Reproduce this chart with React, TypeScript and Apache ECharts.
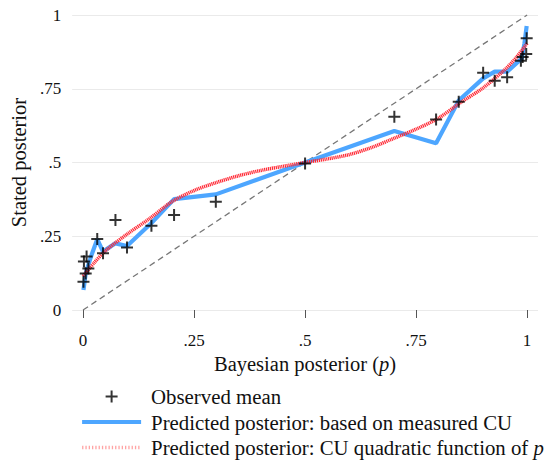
import React, { useEffect, useRef } from "react";
import * as echarts from "echarts";

// Observed means (crosses)
const obsX = [0.001, 0.002, 0.006, 0.008, 0.012, 0.032, 0.045, 0.073, 0.099, 0.154, 0.205, 0.299, 0.5, 0.701, 0.795, 0.846, 0.901, 0.927, 0.955, 0.986, 0.99, 0.998, 0.999];
const obsY = [0.096, 0.164, 0.124, 0.181, 0.141, 0.241, 0.192, 0.305, 0.212, 0.286, 0.322, 0.367, 0.497, 0.655, 0.646, 0.706, 0.804, 0.777, 0.789, 0.845, 0.858, 0.868, 0.921];

// Predicted posterior based on measured CU (blue)
const cuX = [0.001, 0.006, 0.012, 0.02, 0.032, 0.045, 0.073, 0.099, 0.154, 0.205, 0.299, 0.5, 0.701, 0.795, 0.846, 0.901, 0.927, 0.955, 0.988, 0.994, 0.999];
const cuY = [0.068, 0.124, 0.153, 0.19, 0.24, 0.198, 0.226, 0.217, 0.295, 0.376, 0.392, 0.5, 0.607, 0.565, 0.71, 0.785, 0.808, 0.808, 0.853, 0.904, 0.963];

// Predicted posterior: CU quadratic function of p (red)
const quadX = [0, 0.025, 0.05, 0.1, 0.15, 0.2, 0.25, 0.3, 0.35, 0.4, 0.45, 0.5, 0.55, 0.6, 0.65, 0.7, 0.75, 0.8, 0.85, 0.9, 0.95, 0.975, 1.0];
const quadY = [0.115, 0.16, 0.2, 0.258, 0.31, 0.367, 0.405, 0.432, 0.455, 0.473, 0.487, 0.5, 0.512, 0.527, 0.551, 0.582, 0.613, 0.65, 0.703, 0.752, 0.815, 0.855, 0.904];

// 45-degree reference line
const diagX = [0, 1];
const diagY = [0, 1];

const tickValues = [0, 0.25, 0.5, 0.75, 1];
const tickLabels = ["0", ".25", ".5", ".75", "1"];

const NAME_OBS = "Observed mean";
const NAME_CU = "Predicted posterior: based on measured CU";
const NAME_QUAD = "Predicted posterior: CU quadratic function of p";

const FONT = "Liberation Serif";
const PLUS = "path://M5,0h2v5h5v2h-5v5h-2v-5h-5v-2h5z";
const BLUE = "#4da6ff";
const RED = "#ff2a36";

const zip = (xs: number[], ys: number[]) => xs.map((x, i) => [x, ys[i]]);
const fmtTick = (v: number) => {
  const i = tickValues.findIndex((t) => Math.abs(t - v) < 1e-9);
  return i >= 0 ? tickLabels[i] : "";
};

export default function App() {
  const ref = useRef<HTMLDivElement>(null);
  useEffect(() => {
    if (!ref.current) return;
    const chart = echarts.init(ref.current, undefined, { renderer: "svg" });
    chart.setOption({
      animation: false,
      backgroundColor: "#ffffff",
      grid: { left: 67, right: 10, top: 6.15, bottom: 143.15, containLabel: false },
      xAxis: {
        type: "value",
        min: -0.0245,
        max: 1.0245,
        name: "Bayesian posterior ({i|p})",
        nameLocation: "middle",
        nameGap: 30,
        nameTextStyle: {
          fontFamily: FONT,
          fontSize: 20.5,
          color: "#111",
          rich: { i: { fontStyle: "italic", fontFamily: FONT, fontSize: 20.5, color: "#111" } },
        },
        axisLine: { show: false },
        axisTick: { show: true, length: 8, lineStyle: { color: "#555", width: 1 }, customValues: tickValues },
        axisLabel: {
          customValues: tickValues,
          formatter: fmtTick,
          margin: 13,
          fontFamily: FONT,
          fontSize: 17,
          color: "#111",
        },
        splitLine: { show: false },
      },
      yAxis: {
        type: "value",
        min: -0.03,
        max: 1.03,
        name: "Stated posterior",
        nameLocation: "middle",
        nameGap: 35,
        nameTextStyle: { fontFamily: FONT, fontSize: 20.5, color: "#111" },
        axisLine: { show: false },
        axisTick: { show: false, customValues: tickValues },
        axisLabel: {
          customValues: tickValues,
          formatter: fmtTick,
          margin: 11,
          fontFamily: FONT,
          fontSize: 17,
          color: "#111",
        },
        splitLine: { show: true, lineStyle: { color: "#eaeaea", width: 1 } },
      },
      legend: {
        orient: "vertical",
        left: 80,
        top: 386,
        bottom: 0,
        padding: 0,
        itemWidth: 59,
        itemHeight: 12,
        itemGap: 4.5,
        symbolKeepAspect: true,
        textStyle: {
          fontFamily: FONT,
          fontSize: 20.8,
          color: "#111",
          lineHeight: 20,
          padding: [0, 0, 0, 5],
          rich: { i: { fontStyle: "italic", fontFamily: FONT, fontSize: 20.8, color: "#111", lineHeight: 20 } },
        },
        formatter: (name: string) => (name === NAME_QUAD ? name.slice(0, -1) + "{i|p}" : name),
        data: [
          { name: NAME_OBS, icon: PLUS, itemStyle: { color: "#000" } },
          {
            name: NAME_CU,
            itemStyle: { opacity: 0, color: "rgba(0,0,0,0)", borderWidth: 0 },
            lineStyle: { color: BLUE, width: 4.2 },
          },
          {
            name: NAME_QUAD,
            itemStyle: { opacity: 0, color: "rgba(0,0,0,0)", borderWidth: 0 },
            lineStyle: { color: "rgba(255,90,90,0.55)", type: [1.3, 2], width: 3.5 },
          },
        ],
      },
      series: [
        {
          name: "diag",
          type: "line",
          data: zip(diagX, diagY),
          symbol: "none",
          silent: true,
          lineStyle: { color: "#777", width: 1.3, type: [6, 4] },
          z: 1,
        },
        {
          name: NAME_CU,
          type: "line",
          data: zip(cuX, cuY),
          symbol: "none",
          lineStyle: { color: BLUE, width: 4.2 },
          itemStyle: { color: BLUE },
          z: 2,
        },
        {
          name: NAME_QUAD,
          type: "line",
          data: zip(quadX, quadY),
          symbol: "none",
          smooth: 0.3,
          lineStyle: { color: RED, width: 3.5, type: [1.2, 0.7] },
          itemStyle: { color: RED },
          z: 3,
        },
        {
          name: NAME_OBS,
          type: "scatter",
          data: zip(obsX, obsY),
          symbol: PLUS,
          symbolSize: 12,
          itemStyle: { color: "#000" },
          z: 4,
        },
      ],
    });
    return () => chart.dispose();
  }, []);
  return <div ref={ref} style={{ position: "fixed", left: 0, top: 0, width: 548, height: 462 }} />;
}
